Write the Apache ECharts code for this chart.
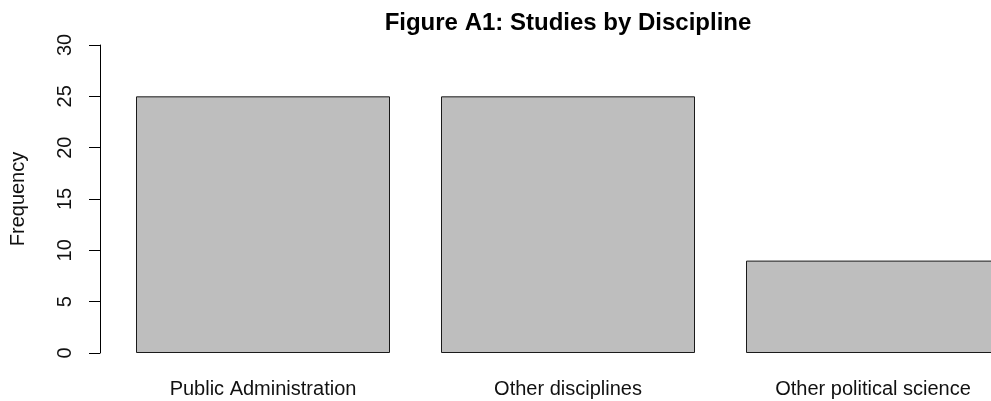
<!DOCTYPE html>
<html>
<head>
<meta charset="utf-8">
<script src="https://cdn.jsdelivr.net/npm/echarts@6/dist/echarts.min.js"></script>
<style>
html,body{margin:0;padding:0;background:#fff;}
#chart{width:991px;height:401px;}
</style>
</head>
<body>
<div id="chart"></div>
<script>
const categories = ["Public Administration", "Other disciplines", "Other political science"];
const frequency = [25, 25, 9];
const yTicks = [0, 5, 10, 15, 20, 25, 30];

const chart = echarts.init(document.getElementById('chart'), null, {renderer: 'canvas'});
const font = 'Liberation Sans, Arial, sans-serif';
chart.setOption({
  animation: false,
  title: {
    text: 'Figure A1: Studies by Discipline',
    left: 563, top: 6, textAlign: 'center',
    textStyle: {fontFamily: font, fontSize: 24, fontWeight: 'bold', color: '#000'}
  },
  grid: {left: 110.5, top: 45, width: 915, height: 308, outerBoundsMode: 'none', containLabel: false},
  xAxis: {
    type: 'category',
    data: categories,
    axisLine: {show: false},
    axisTick: {show: false},
    axisLabel: {fontFamily: font, fontSize: 20, color: '#111', margin: 26}
  },
  yAxis: {
    type: 'value',
    min: yTicks[0], max: yTicks[yTicks.length - 1], interval: 5,
    offset: 10.5,
    name: 'Frequency',
    nameLocation: 'middle',
    nameRotate: 90,
    nameGap: 72,
    nameTextStyle: {fontFamily: font, fontSize: 20, color: '#111'},
    splitLine: {show: false},
    axisLine: {show: true, lineStyle: {color: '#000', width: 1}},
    axisTick: {show: true, length: 11, lineStyle: {color: '#000'}},
    axisLabel: {fontFamily: font, fontSize: 20, color: '#111', rotate: 90, margin: 25}
  },
  series: [{
    type: 'bar',
    data: frequency,
    barWidth: 254,
    itemStyle: {color: '#bebebe', borderColor: '#1a1a1a', borderWidth: 1}
  }]
});
</script>
</body>
</html>
